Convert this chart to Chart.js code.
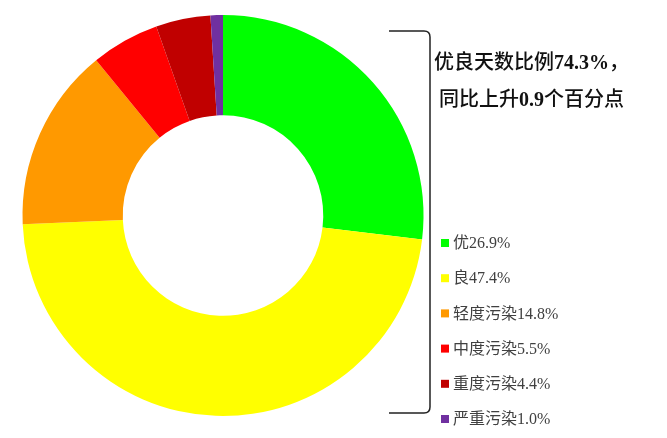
<!DOCTYPE html>
<html lang="zh">
<head>
  <meta charset="UTF-8">
  <title>空气质量类别占比</title>
  <style>
    body {
      margin: 0;
      padding: 0;
      background: #fff;
    }

    .wrap {
      position: relative;
      width: 667px;
      height: 438px;
    }

    .note {
      position: absolute;
      left: 434px;
      top: 44px;
      font-family: 'Liberation Serif', 'Noto Sans CJK SC', serif;
      font-size: 20px;
      font-weight: 500;
      line-height: 37px;
      color: #111;
      white-space: nowrap;
    }

    .note b {
      font-weight: bold;
    }
  </style>
</head>
<body>
<div class="wrap">
  <canvas id="aqChart"></canvas>
  <div class="note">优良天数比例<b>74.3%</b>，<br>&nbsp;同比上升<b>0.9</b>个百分点</div>
</div>

<script src="https://cdn.jsdelivr.net/npm/chart.js"></script>
<script>
  const categories = ['优', '良', '轻度污染', '中度污染', '重度污染', '严重污染'];
  const shares = [26.9, 47.4, 14.8, 5.5, 4.4, 1.0];
  const colors = ['#00FF00', '#FFFF00', '#FF9900', '#FF0000', '#C00000', '#7030A0'];

  // bracket + legend on the right side
  const sidePlugin = {
    id: 'side',
    afterDraw(chart) {
      const ctx = chart.ctx;
      ctx.save();
      ctx.strokeStyle = '#222';
      ctx.lineWidth = 1.5;
      ctx.beginPath();
      ctx.moveTo(389, 31);
      ctx.lineTo(424, 31);
      ctx.quadraticCurveTo(430, 31, 430, 37);
      ctx.lineTo(430, 407);
      ctx.quadraticCurveTo(430, 413, 424, 413);
      ctx.lineTo(389, 413);
      ctx.stroke();

      const labels = chart.data.labels;
      const ds = chart.data.datasets[0];
      ctx.font = "16px 'Liberation Serif', 'Noto Sans CJK SC', serif";
      ctx.textBaseline = 'middle';
      ctx.textAlign = 'left';
      labels.forEach((lab, i) => {
        const y = 243 + i * 35.2;
        ctx.fillStyle = ds.backgroundColor[i];
        ctx.fillRect(441, y - 4, 8, 8);
        ctx.fillStyle = '#404040';
        ctx.fillText(lab + ds.data[i].toFixed(1) + '%', 453, y + 1);
      });
      ctx.restore();
    }
  };

  new Chart(document.getElementById('aqChart'), {
    type: 'doughnut',
    data: {
      labels: categories,
      datasets: [{
        data: shares,
        backgroundColor: colors,
        borderWidth: 0
      }]
    },
    options: {
      responsive: true,
      maintainAspectRatio: false,
      animation: false,
      cutout: '50%',
      layout: {
        padding: { left: 22, top: 15, right: 243, bottom: 22 }
      },
      plugins: {
        legend: { display: false },
        tooltip: { enabled: false }
      }
    },
    plugins: [sidePlugin]
  });
</script>
</body>
</html>
